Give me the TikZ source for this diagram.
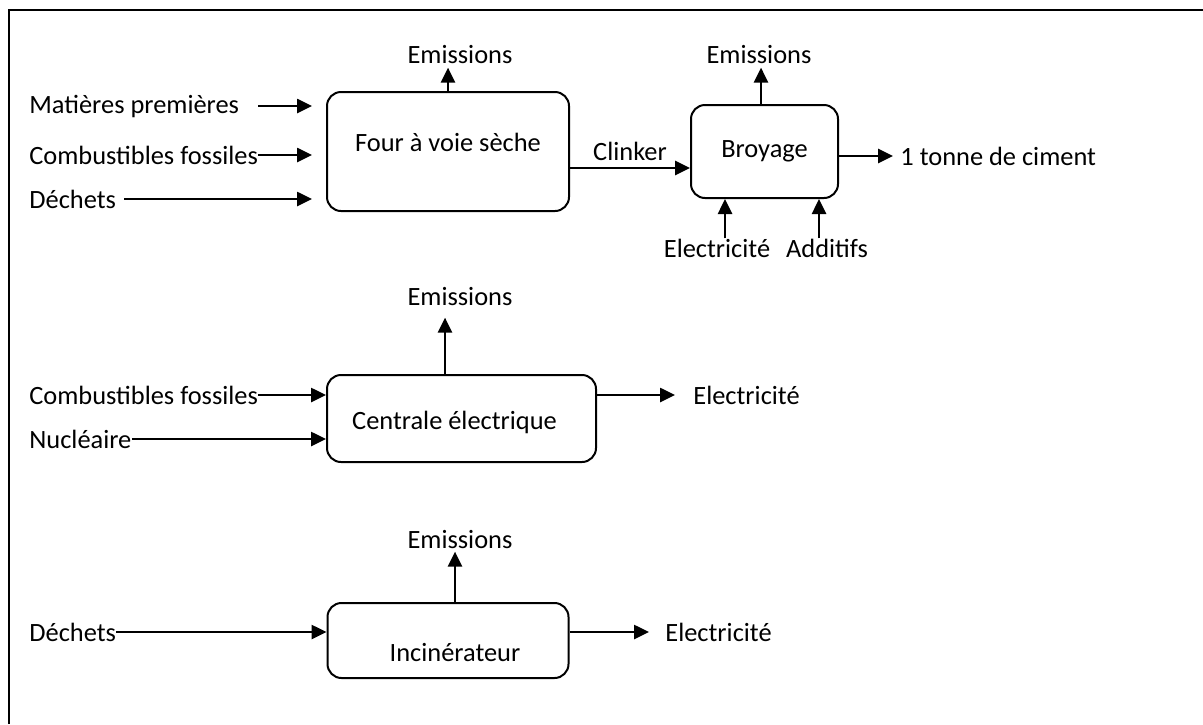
\documentclass[tikz,border=0pt]{standalone}
\usepackage{fontspec}
\setmainfont{Carlito}
\usepackage{tikz}
\usetikzlibrary{positioning,arrows.meta}

\newcommand{\lift}[2]{\raisebox{#1}[\height][\depth]{#2}}

\begin{document}
\begin{tikzpicture}[
  x=0.5pt, y=-0.5pt,
  font=\fontsize{13.2pt}{16pt}\selectfont,
  >={Triangle[length=7.5pt,width=7pt]},
  proc/.style args = {#1/#2}{draw, rounded corners=7pt, line width=1pt,
                     minimum width=#1, minimum height=#2, inner sep=0pt},
  lbl/.style  = {inner sep=0pt, anchor=west},
  emi/.style  = {inner sep=0pt, anchor=base},
  flow/.style = {->, line width=1.3pt},
  frame/.style = {line width=1.3pt}
]

\useasboundingbox (0,0) rectangle (1203,724);
\draw[frame] (9,724) -- (9,10) -- (1203,10);

% ======================= cement: kiln and grinding =========================
\node[proc=121pt/59.5pt] (four) at (448,151.5) {\lift{4.75pt}{Four à voie sèche}};
\node[proc=73.5pt/46.5pt, right=60pt of four] (broy) {Broyage};

\node[lbl] (mat)  at (29,106) {Matières premières};
\node[lbl] (comb) at (29,155) {Combustibles fossiles};
\node[lbl] (dech) at (29,199) {Déchets};
\node[emi] (em1)  at (460,63) {Emissions};
\node[emi] (em2)  at (759,63) {Emissions};
\node[lbl] (ton)  at (900,156) {1 tonne de ciment};
\node[inner sep=0pt] (elec) at (717,248) {Electricité};
\node[inner sep=0pt] (add)  at (827,248) {Additifs};

\draw[flow, shorten >=7pt] ([xshift=9.5pt]mat.east) -- (four.west|-mat.east);
\draw[flow, shorten >=7pt] (comb.east) -- (four.west|-comb.east);
\draw[flow, shorten >=7pt] ([xshift=4pt]dech.east) -- (four.west|-dech.east);
\draw[flow, shorten >=2pt] (four.north) -- (four.north|-em1.south);
\draw[flow] ([yshift=-8.25pt]four.east) -- ([yshift=-8.25pt]four.east-|broy.west)
  node[midway, above=3pt, inner sep=0pt] (clk) {Clinker};
\draw[flow, shorten >=2pt] ([xshift=-1.75pt]broy.north) -- ([xshift=-1.75pt]broy.north|-em2.south);
\draw[flow, shorten >=3.5pt] (broy.east|-ton.west) -- (ton.west);
\draw[flow] ([xshift=4pt]elec.north) -- ([xshift=4pt]elec.north|-broy.south);
\draw[flow] ([xshift=-4pt]add.north) -- ([xshift=-4pt]add.north|-broy.south);

% ============================ power station ================================
\node[proc=134.5pt/43.5pt] (cent) at (461.5,418.5) {\lift{-1.75pt}{Centrale électrique\hspace{7pt}}};

\node[lbl] (comb2) at (29,395) {Combustibles fossiles};
\node[lbl] (nuc)   at (29,439) {Nucléaire};
\node[emi] (em3)   at (460,305) {Emissions};
\node[lbl] (el2)   at (693,395) {Electricité};

\draw[flow] (comb2.east) -- (cent.west|-comb2.east);
\draw[flow] (nuc.east) -- (cent.west|-nuc.east);
\draw[flow, shorten >=6pt] ([xshift=-8.25pt]cent.north) -- ([xshift=-8.25pt]cent.north|-em3.south);
\draw[flow, shorten >=9pt] (cent.east|-el2.west) -- (el2.west);

% ============================== incinerator ================================
\node[proc=120.5pt/37.5pt] (inci) at (448,640.5) {\lift{-6pt}{\hspace{7pt}Incinérateur}};

\node[lbl] (dech2) at (29,632) {Déchets};
\node[emi] (em4)   at (460,548) {Emissions};
\node[lbl] (el3)   at (665,632) {Electricité};

\draw[flow] (dech2.east) -- (inci.west|-dech2.east);
\draw[flow, shorten >=1.5pt] ([xshift=3.5pt]inci.north) -- ([xshift=3.5pt]inci.north|-em4.south);
\draw[flow, shorten >=8pt] (inci.east|-el3.west) -- (el3.west);

\end{tikzpicture}
\end{document}
